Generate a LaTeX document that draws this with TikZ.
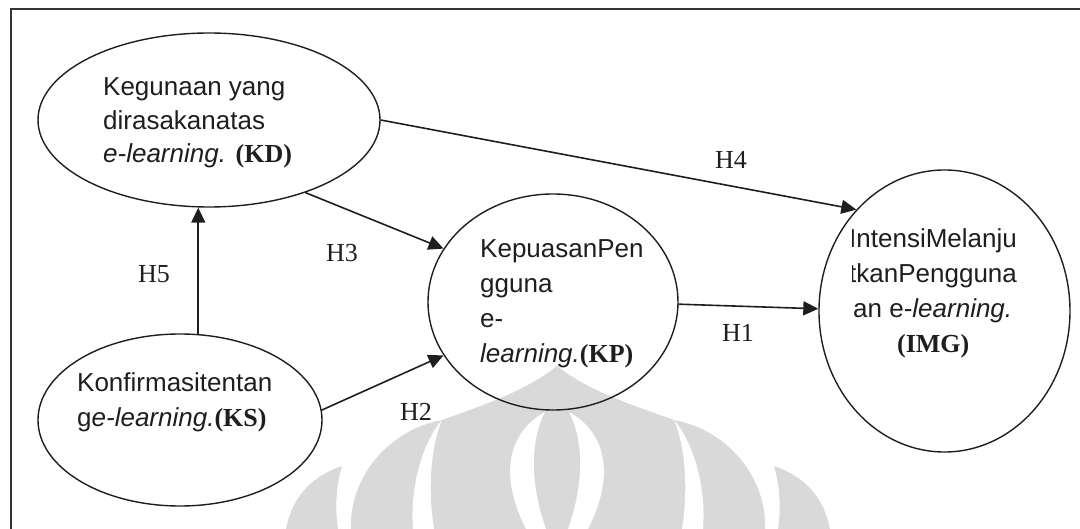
\documentclass[tikz,border=0pt]{standalone}
\usepackage{fontspec}
\setmainfont{Liberation Sans}
\newfontfamily\tms{Liberation Serif}
\usetikzlibrary{shapes.geometric,arrows.meta}
\definecolor{wm}{HTML}{D9D9D9}
\definecolor{ink}{HTML}{1E1E1E}
\begin{document}
\begin{tikzpicture}[x=1pt,y=-1pt,
  oval/.style={draw=ink,ellipse,line width=1.4pt,inner sep=0pt},
  txt/.style={anchor=base west,inner sep=0pt,text=ink,font=\fontsize{26}{35}\selectfont},
  hlab/.style={anchor=base,inner sep=0pt,text=ink,font=\tms\fontsize{26}{30}\selectfont},
  arr/.style={draw=ink,line width=1.6pt,-{Triangle[length=15pt,width=14pt]}},
  frame/.style={draw=ink!90,line width=2pt}]
\useasboundingbox (0,0) rectangle (1080,529);
% watermark
\fill[wm] (286,529) .. controls (292,497) and (312,476) .. (342,466) .. controls (336,485) and (335,510) .. (338,529) -- cycle;
\fill[wm] (830,529) .. controls (824,497) and (804,476) .. (774,466) .. controls (780,485) and (781,510) .. (778,529) -- cycle;
\fill[wm] (351,529) .. controls (349,478) and (388,430) .. (442,420) .. controls (475,408) and (525,392) .. (557,366) .. controls (589,392) and (641,408) .. (674,420) .. controls (728,430) and (767,478) .. (765,529) -- cycle;
\fill[white] (442,420) .. controls (420,446) and (410,492) .. (413,529) -- (434,529) .. controls (428,492) and (430,448) .. (442,420) -- cycle;
\fill[white] (674,420) .. controls (696,446) and (706,492) .. (703,529) -- (682,529) .. controls (688,492) and (686,448) .. (674,420) -- cycle;
\fill[white] (545,412) .. controls (512,430) and (496,470) .. (526,529) -- (546,529) .. controls (530,485) and (530,440) .. (545,412) -- cycle;
\fill[white] (569,412) .. controls (602,430) and (618,470) .. (588,529) -- (568,529) .. controls (584,485) and (584,440) .. (569,412) -- cycle;
% frame
\draw[frame] (11,529) -- (11,9) -- (1080,9);
% ellipses
\node[oval,minimum width=342pt,minimum height=174pt] (KD) at (209,120) {};
\node[oval,minimum width=284pt,minimum height=172pt] (KS) at (180,420) {};
\node[oval,minimum width=250pt,minimum height=216pt] (KP) at (553,302) {};
\node[oval,minimum width=251pt,minimum height=282pt] (IMG) at (944.5,311) {};
% texts
\node[txt] (KDt) at (103,96) {\vtop{\baselineskip=33.5pt\hbox{Kegunaan yang}\hbox{dirasakanatas}\hbox{\textit{e-learning.} {\tms\bfseries(KD)}}}};
\node[txt] (KSt) at (77,392) {\vtop{\hbox{Konfirmasitentan}\hbox{g\textit{e-learning.}{\tms\bfseries(KS)}}}};
\node[txt] (KPt) at (480,258) {\vtop{\hbox{KepuasanPen}\hbox{gguna}\hbox{e-}\hbox{\textit{learning.}{\tms\bfseries(KP)}}}};
\begin{scope}
\clip (852,200) rectangle (1070,380);
\node[txt] (IMGt) at (849,248) {\vtop{\hbox{IntensiMelanju}\hbox{tkanPengguna}\hbox{\kern4pt an e-\textit{learning.}}\hbox to 168pt{\hfil{\tms\bfseries(IMG)}\hfil}}};
\end{scope}
% labels
\node[hlab] (h5) at (154,283) {H5};
\node[hlab] (h3) at (342,262) {H3};
\node[hlab] (h4) at (731,169) {H4};
\node[hlab] (h1) at (738,342) {H1};
\node[hlab] (h2) at (416,421) {H2};
% connectors
\draw[arr] (KS.78) -- (KS.78 |- KD.south);
\draw[arr] (KD.-37.6) -- (KP.154.5);
\draw[arr] (KD.0) -- (IMG.131);
\draw[arr] (KP.-1) -- (IMG.179);
\draw[arr] (KS.4) -- (KP.206);
\end{tikzpicture}
\end{document}
